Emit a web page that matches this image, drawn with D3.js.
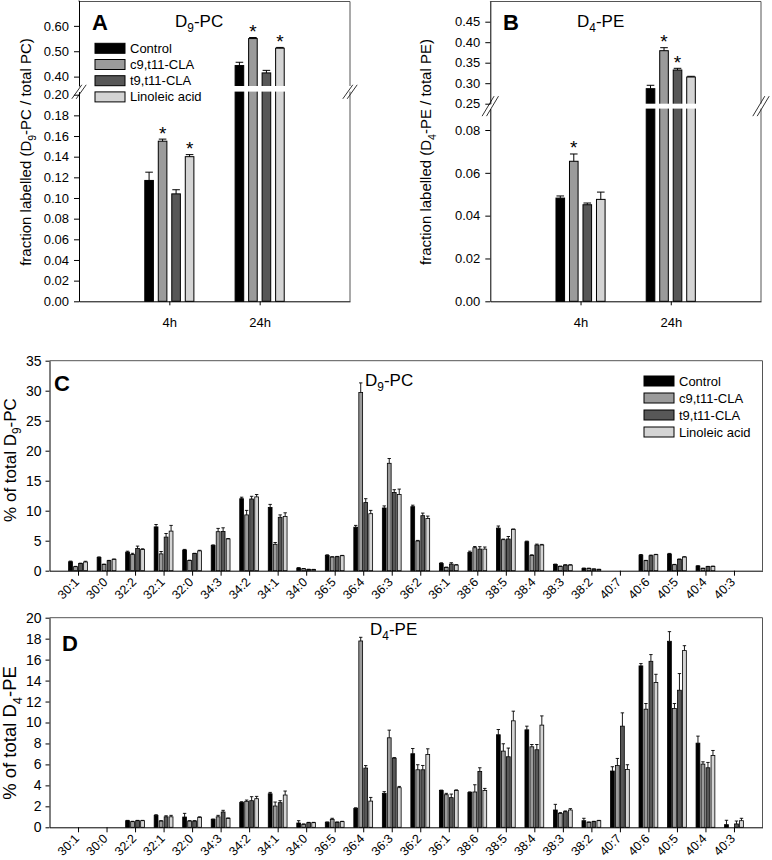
<!DOCTYPE html>
<html><head><meta charset="utf-8">
<script src="https://cdn.jsdelivr.net/npm/d3@7"></script>
<style>
body{margin:0;background:#fff}
svg{display:block}
text{font-family:"Liberation Sans",Arial,Helvetica,sans-serif;fill:#000}
</style>
</head><body>
<svg id="chart" width="772" height="860"></svg>
<script>
// ---------------- DATA ----------------
const seriesNames = ["Control", "c9,t11-CLA", "t9,t11-CLA", "Linoleic acid"];
const seriesColors = ["#000000", "#9b9b9b", "#575757", "#d4d4d4"];
const timeLabels = ["4h", "24h"];

// Panel A: fraction labelled D9-PC / total PC  (per series: [4h, 24h])
const fracPC = [[0.117, 0.4435], [0.155, 0.550], [0.104, 0.4146], [0.140, 0.512]];
const fracPCErr = [[0.008, 0.013], [0.002, 0.004], [0.004, 0.010], [0.002, 0.003]];
const fracPCStar = [[0, 0], [1, 1], [0, 0], [1, 1]];
const pcTicksLow = [0, 0.02, 0.04, 0.06, 0.08, 0.10, 0.12, 0.14, 0.16, 0.18, 0.20];
const pcTicksHigh = [0.40, 0.50, 0.60];

// Panel B: fraction labelled D4-PE / total PE
const fracPE = [[0.0482, 0.2866], [0.0654, 0.3793], [0.0451, 0.3322], [0.0476, 0.3151]];
const fracPEErr = [[0.0010, 0.0083], [0.0034, 0.0073], [0.0008, 0.0041], [0.0034, 0.0017]];
const fracPEStar = [[0, 0], [1, 1], [0, 1], [0, 0]];
const peTicksLow = [0, 0.02, 0.04, 0.06, 0.08];
const peTicksHigh = [0.25, 0.30, 0.35, 0.40, 0.45];

// Panels C and D: molecular species
const species = ["30:1","30:0","32:2","32:1","32:0","34:3","34:2","34:1","34:0","36:5","36:4","36:3",
                 "36:2","36:1","38:6","38:5","38:4","38:3","38:2","40:7","40:6","40:5","40:4","40:3"];

// Panel C: % of total D9-PC
const pcControl = [1.5,2.2,3.1,7.3,3.45,4.2,12.0,10.55,0.45,2.55,7.25,10.45,10.67,1.22,3.05,7.1,4.83,1.05,0.39,0,2.6,2.78,0.78,0];
const pcControlErr = [0.1,0.1,0.15,0.4,0.1,0.1,0.25,0.5,0.05,0.1,0.3,0.35,0.25,0.1,0.2,0.35,0.1,0.05,0.05,0,0.1,0.1,0.05,0];
const pcC9 = [0.67,1.05,2.7,2.8,1.7,6.5,9.3,4.4,0.33,2.28,29.7,17.9,4.95,0.55,3.83,5.17,2.55,0.72,0.39,0,1.67,1.0,0.39,0];
const pcC9Err = [0.05,0.05,0.2,0.4,0.05,0.55,0.75,0.3,0.03,0.05,1.6,0.8,0.1,0.05,0.2,0.1,0.1,0.05,0.03,0,0.05,0.05,0.03,0];
const pcT9 = [1.2,1.67,3.7,5.6,2.85,6.55,11.95,8.9,0.22,2.33,11.35,13.05,9.17,1.1,3.6,5.28,4.28,0.94,0.28,0,2.5,1.9,0.67,0];
const pcT9Err = [0.05,0.05,0.4,0.6,0.05,0.6,0.45,0.4,0.02,0.05,0.65,0.45,0.43,0.23,0.4,0.42,0.15,0.05,0.02,0,0.1,0.05,0.05,0];
const pcLA = [1.45,1.9,3.55,6.6,3.3,5.3,12.3,9.05,0.2,2.5,9.5,12.7,8.7,0.95,3.6,6.9,4.28,0.94,0.22,0,2.67,2.28,0.72,0];
const pcLAErr = [0.12,0.05,0.1,0.95,0.1,0.05,0.4,0.6,0.02,0.05,0.55,0.9,0.4,0.05,0.35,0.05,0.1,0.05,0.02,0,0.05,0.05,0.05,0];
const pcTicks = [0, 5, 10, 15, 20, 25, 30, 35];

// Panel D: % of total D4-PE
const peControl = [0,0,0.63,1.14,0.98,0.76,2.38,3.2,0.41,0.48,1.81,3.24,7.02,3.52,3.33,8.83,9.3,1.65,0.63,5.37,15.4,17.75,8.03,0.25];
const peControlErr = [0,0,0.03,0.06,0.35,0.03,0.06,0.13,0.22,0.03,0.05,0.16,0.5,0.03,0.05,0.5,0.35,0.54,0.23,0.41,0.22,0.92,0.67,0.42];
const peC9 = [0,0,0.54,0.6,0.6,1.0,2.48,2.03,0.29,0.76,17.78,8.54,5.49,3.11,3.37,7.27,7.68,1.33,0.48,5.9,11.27,11.33,6.03,0];
const peC9Err = [0,0,0.03,0.03,0.03,0.14,0.12,0.38,0.03,0.1,0.35,0.73,0.48,0.13,0.69,0.7,0.22,0.07,0.03,0.67,0.54,0.48,0.22,0];
const peT9 = [0,0,0.63,1.0,0.6,1.46,2.54,2.35,0.44,0.48,5.65,6.6,5.49,2.83,5.33,6.73,7.4,1.49,0.54,9.65,15.84,13.08,5.68,0.32];
const peT9Err = [0,0,0.03,0.1,0.03,0.16,0.38,0.19,0.03,0.03,0.24,0.05,0.41,0.34,0.35,0.83,0.5,0.07,0.03,1.27,0.64,1.59,0.51,0.28];
const peLA = [0,0,0.63,1.0,0.95,0.86,2.73,3.08,0.44,0.54,2.5,3.78,6.95,3.52,3.52,10.16,9.75,1.65,0.63,5.52,13.81,16.86,6.86,0.63];
const peLAErr = [0,0,0.03,0.14,0.05,0.03,0.22,0.38,0.03,0.03,0.35,0.12,0.54,0.05,0.19,0.92,0.88,0.13,0.03,0.45,0.79,0.47,0.47,0.23];
const peTicks = [0, 2, 4, 6, 8, 10, 12, 14, 16, 18, 20];

// ---------------- DRAWING ----------------
const svg = d3.select("#chart");
svg.append("rect").attr("width", 772).attr("height", 860).attr("fill", "#fff");
const FRAME = "#555";

function subText(g, x, y, parts, size, opts = {}) {
  const t = g.append("text").attr("x", x).attr("y", y).attr("font-size", size);
  if (opts.anchor) t.attr("text-anchor", opts.anchor);
  if (opts.transform) t.attr("transform", opts.transform);
  if (opts.weight) t.attr("font-weight", opts.weight);
  parts.forEach(p => {
    if (p.sub) t.append("tspan").attr("dy", size * 0.3).attr("font-size", size * 0.7).text(p.sub);
    else t.append("tspan").attr("dy", p.after ? -size * 0.3 : 0).text(p.t);
  });
  return t;
}

function styleAxis(a) {
  a.selectAll("path.domain").attr("stroke", "#000").attr("stroke-width", 1);
  a.selectAll(".tick line").attr("stroke", "#000");
  a.selectAll(".tick text").attr("font-family", '"Liberation Sans",Arial,sans-serif').attr("fill", "#000");
}

function brokenPanel(cfg) {
  const g = svg.append("g");
  const x = d3.scalePoint().domain(timeLabels).range([cfg.x0, cfg.x1]).padding(1);
  const yLo = d3.scaleLinear().domain(cfg.loDomain).range(cfg.loRange);
  const yHi = d3.scaleLinear().domain(cfg.hiDomain).range(cfg.hiRange);
  const loMax = cfg.loDomain[1];
  const yv = v => (v > loMax ? yHi(v) : yLo(v));
  const bw = 8.6, step = 13.5;

  // frame top & right
  g.append("line").attr("x1", cfg.x0).attr("x2", cfg.x1).attr("y1", cfg.top).attr("y2", cfg.top).attr("stroke", FRAME);
  g.append("line").attr("x1", cfg.x1).attr("x2", cfg.x1).attr("y1", cfg.top).attr("y2", yLo(0)).attr("stroke", FRAME);

  cfg.values.forEach((vals, s) => {
    vals.forEach((v, i) => {
      const cx = x(timeLabels[i]) + (s - 1.5) * step;
      g.append("rect").attr("x", cx - bw / 2).attr("y", yv(v)).attr("width", bw)
        .attr("height", yLo(0) - yv(v)).attr("fill", seriesColors[s]).attr("stroke", "#000").attr("stroke-width", 1);
      const ye = yv(v + cfg.errs[s][i]);
      g.append("line").attr("x1", cx).attr("x2", cx).attr("y1", yv(v)).attr("y2", ye).attr("stroke", "#000");
      g.append("line").attr("x1", cx - bw / 2 + 0.5).attr("x2", cx + bw / 2 - 0.5).attr("y1", ye).attr("y2", ye).attr("stroke", "#000");
      if (cfg.stars[s][i]) {
        g.append("text").attr("x", cx).attr("y", ye + 0.5).attr("text-anchor", "middle").attr("font-size", 19).text("*");
      }
    });
  });

  // break gap
  const gTop = cfg.hiRange[0], gBot = cfg.loRange[1];
  g.append("rect").attr("x", cfg.x0 + 0.5).attr("y", gTop).attr("width", cfg.x1 - cfg.x0 + 2).attr("height", gBot - gTop).attr("fill", "#fff");
  const gc = (gTop + gBot) / 2 + cfg.markShift;
  [cfg.x0, cfg.x1].forEach(bx => {
    [-2.2, 2.2].forEach(off => {
      g.append("line").attr("x1", bx + off - cfg.markW / 2).attr("y1", gc + cfg.markH / 2)
        .attr("x2", bx + off + cfg.markW / 2).attr("y2", gc - cfg.markH / 2).attr("stroke", "#333").attr("stroke-width", 1);
    });
  });

  // axes
  const fmt = d3.format(".2f");
  const aLo = g.append("g").attr("transform", `translate(${cfg.x0},0)`)
    .call(d3.axisLeft(yLo).tickValues(cfg.ticksLo).tickFormat(fmt).tickSize(5).tickPadding(5).tickSizeOuter(0));
  const aHi = g.append("g").attr("transform", `translate(${cfg.x0},0)`)
    .call(d3.axisLeft(yHi).tickValues(cfg.ticksHi).tickFormat(fmt).tickSize(5).tickPadding(5).tickSizeOuter(0));
  const ax = g.append("g").attr("transform", `translate(0,${yLo(0)})`)
    .call(d3.axisBottom(x).tickSize(4).tickPadding(12).tickSizeOuter(0));
  [aLo, aHi, ax].forEach(a => { styleAxis(a); a.selectAll(".tick text").attr("font-size", 13); });
  g.append("line").attr("x1", cfg.x0).attr("x2", cfg.x0).attr("y1", cfg.top).attr("y2", cfg.hiRange[1]).attr("stroke", "#000");

  // letter, title, y label
  g.append("text").attr("x", cfg.letterX).attr("y", 30).attr("font-size", 22).attr("font-weight", "bold").text(cfg.letter);
  subText(g, cfg.titleX, 27, cfg.title, 17);
  subText(g, 0, 0, cfg.ylabel, 15, { anchor: "middle", transform: `translate(${cfg.ylabX},152) rotate(-90)` });

  if (cfg.legend) legend(g, cfg.legend.x, cfg.legend.y, cfg.legend.dy);
}

function legend(g, lx, ly, dy) {
  seriesNames.forEach((n, s) => {
    const yc = ly + s * dy;
    g.append("rect").attr("x", lx).attr("y", yc - 5).attr("width", 30).attr("height", 10)
      .attr("fill", seriesColors[s]).attr("stroke", "#000").attr("stroke-width", 1);
    g.append("text").attr("x", lx + 35).attr("y", yc + 4.5).attr("font-size", 13).text(n);
  });
}

function speciesPanel(cfg) {
  const g = svg.append("g");
  const x = d3.scalePoint().domain(species).range([49.5, 762.5]).padding(1);
  const y = d3.scaleLinear().domain([0, cfg.max]).range([cfg.bottom, cfg.top]);
  const bw = 3.8, step = 5;
  g.append("line").attr("x1", 49.5).attr("x2", 762.5).attr("y1", cfg.top).attr("y2", cfg.top).attr("stroke", FRAME);
  g.append("line").attr("x1", 762.5).attr("x2", 762.5).attr("y1", cfg.top).attr("y2", cfg.bottom).attr("stroke", FRAME);

  cfg.series.forEach((vals, s) => {
    vals.forEach((v, i) => {
      if (v <= 0) return;
      const cx = x(species[i]) + (s - 1.5) * step;
      g.append("rect").attr("x", cx - bw / 2).attr("y", y(v)).attr("width", bw).attr("height", y(0) - y(v))
        .attr("fill", seriesColors[s]).attr("stroke", "#000").attr("stroke-width", 0.8);
      const e = cfg.errs[s][i];
      if (e > 0) {
        const ye = y(v + e);
        g.append("line").attr("x1", cx).attr("x2", cx).attr("y1", y(v)).attr("y2", ye).attr("stroke", "#000").attr("stroke-width", 0.9);
        g.append("line").attr("x1", cx - 1.7).attr("x2", cx + 1.7).attr("y1", ye).attr("y2", ye).attr("stroke", "#000").attr("stroke-width", 0.9);
      }
    });
  });

  const ay = g.append("g").attr("transform", "translate(49.5,0)")
    .call(d3.axisLeft(y).tickValues(cfg.ticks).tickFormat(d3.format("d")).tickSize(4).tickPadding(4).tickSizeOuter(0));
  const ax = g.append("g").attr("transform", `translate(0,${cfg.bottom})`)
    .call(d3.axisBottom(x).tickSize(5).tickSizeOuter(0));
  styleAxis(ay); styleAxis(ax);
  ay.selectAll(".tick text").attr("font-size", 14);
  ax.selectAll(".tick text").attr("font-size", 12.5).attr("text-anchor", "end")
    .attr("x", 0).attr("y", 0).attr("dy", 0).attr("transform", "translate(1.5,12) rotate(-45)");

  g.append("text").attr("x", cfg.letterX).attr("y", cfg.letterY).attr("font-size", 22).attr("font-weight", "bold").text(cfg.letter);
  subText(g, cfg.titleX, cfg.titleY, cfg.title, 17);
  subText(g, 0, 0, cfg.ylabel, cfg.ylabSize, { anchor: "middle", transform: `translate(16,${cfg.ylabY}) rotate(-90)` });
  if (cfg.legend) legend(g, cfg.legend.x, cfg.legend.y, cfg.legend.dy);
}

// Panel A
brokenPanel({
  x0: 79, x1: 350, top: 1.5,
  loDomain: [0, 0.203], loRange: [301.3, 91.6],
  hiDomain: [0.363, 0.70], hiRange: [86, 0.5],
  ticksLo: pcTicksLow, ticksHi: pcTicksHigh,
  values: fracPC, errs: fracPCErr, stars: fracPCStar,
  markW: 10, markH: 14, markShift: 3,
  letter: "A", letterX: 92, titleX: 175,
  title: [{ t: "D" }, { sub: "9" }, { t: "-PC", after: true }],
  ylabel: [{ t: "fraction labelled (D" }, { sub: "9" }, { t: "-PC / total PC)", after: true }],
  ylabX: 31,
  legend: { x: 95, y: 48.3, dy: 16.2 }
});

// Panel B
brokenPanel({
  x0: 490.3, x1: 761, top: 1.5,
  loDomain: [0, 0.09], loRange: [301.3, 108.6],
  hiDomain: [0.25, 0.50], hiRange: [103.7, 1.2],
  ticksLo: peTicksLow, ticksHi: peTicksHigh,
  values: fracPE, errs: fracPEErr, stars: fracPEStar,
  markW: 12, markH: 20, markShift: 0,
  letter: "B", letterX: 503, titleX: 577,
  title: [{ t: "D" }, { sub: "4" }, { t: "-PE", after: true }],
  ylabel: [{ t: "fraction labelled (D" }, { sub: "4" }, { t: "-PE / total PE)", after: true }],
  ylabX: 431
});

// Panel C
speciesPanel({
  top: 360.7, bottom: 570.7, max: 35, ticks: pcTicks,
  series: [pcControl, pcC9, pcT9, pcLA], errs: [pcControlErr, pcC9Err, pcT9Err, pcLAErr],
  letter: "C", letterX: 54, letterY: 391,
  title: [{ t: "D" }, { sub: "9" }, { t: "-PC", after: true }], titleX: 365, titleY: 386,
  ylabel: [{ t: "% of total D" }, { sub: "9" }, { t: "-PC", after: true }], ylabY: 460, ylabSize: 17,
  legend: { x: 644, y: 381, dy: 17 }
});

// Panel D
speciesPanel({
  top: 617.7, bottom: 827.3, max: 20, ticks: peTicks,
  series: [peControl, peC9, peT9, peLA], errs: [peControlErr, peC9Err, peT9Err, peLAErr],
  letter: "D", letterX: 62, letterY: 651,
  title: [{ t: "D" }, { sub: "4" }, { t: "-PE", after: true }], titleX: 370, titleY: 635,
  ylabel: [{ t: "% of total D" }, { sub: "4" }, { t: "-PE", after: true }], ylabY: 733, ylabSize: 18.5
});
</script>
</body></html>
